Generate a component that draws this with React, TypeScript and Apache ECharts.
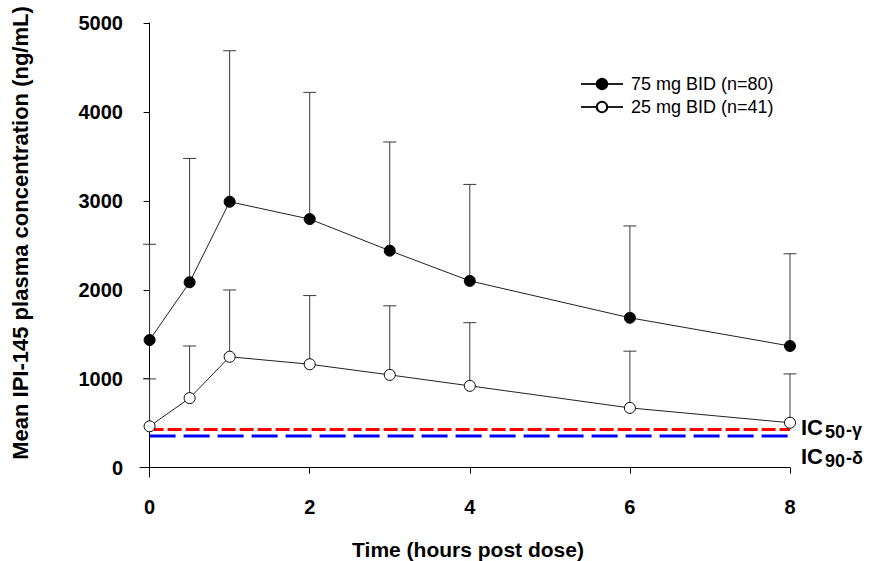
import React, { useEffect, useRef } from "react";
import * as echarts from "echarts";

const times = [0, 0.5, 1, 2, 3, 4, 6, 8];
const mean75 = [1435, 2085, 2990, 2795, 2440, 2100, 1685, 1368];
const upper75 = [2512, 3477, 4688, 4220, 3662, 3185, 2718, 2405];
const mean25 = [465, 782, 1247, 1163, 1043, 920, 672, 505];
const upper25 = [998, 1368, 1998, 1935, 1820, 1630, 1310, 1054];
const ic50Gamma = 430;
const ic90Delta = 355;
const icSpan = [0, 8];
const xTicks = [0, 2, 4, 6, 8];
const yTicks = [0, 1000, 2000, 3000, 4000, 5000];
const name75 = "75 mg BID (n=80)";
const name25 = "25 mg BID (n=41)";

const FONT = "Liberation Sans, Arial, sans-serif";

function errorBarSeries(means: number[], uppers: number[]) {
  return {
    type: "custom",
    z: 1,
    silent: true,
    data: times.map((t, i) => [t, means[i], uppers[i]]),
    renderItem: (params: any, api: any) => {
      const x = api.value(0);
      const p0 = api.coord([x, api.value(1)]);
      const p1 = api.coord([x, api.value(2)]);
      const st = { stroke: "#3a3a3a", lineWidth: 1 };
      return {
        type: "group",
        children: [
          { type: "line", shape: { x1: p0[0], y1: p0[1], x2: p1[0], y2: p1[1] }, style: st },
          { type: "line", shape: { x1: p1[0] - 6.5, y1: p1[1], x2: p1[0] + 6.5, y2: p1[1] }, style: st },
        ],
      };
    },
  };
}

export default function App() {
  const ref = useRef<HTMLDivElement>(null);
  useEffect(() => {
    if (!ref.current) return;
    const chart = echarts.init(ref.current, undefined, { renderer: "svg" });
    chart.setOption({
      animation: false,
      backgroundColor: "#ffffff",
      grid: { left: 140, right: 84, top: 23, bottom: 84 },
      xAxis: {
        type: "value",
        min: -0.12,
        max: 8,
        axisLine: { lineStyle: { color: "#000", width: 1 } },
        axisTick: { show: true, length: 6, inside: false, customValues: xTicks, lineStyle: { color: "#000" } },
        axisLabel: {
          customValues: xTicks,
          formatter: (v: number) => String(v),
          margin: 20,
          fontFamily: FONT,
          fontWeight: "bold",
          fontSize: 20,
          color: "#000",
        },
        splitLine: { show: false },
      },
      yAxis: {
        type: "value",
        min: -105,
        max: 5000,
        axisLine: { show: true, lineStyle: { color: "#000", width: 1 } },
        axisTick: { show: true, length: 6, inside: false, customValues: yTicks, lineStyle: { color: "#000" } },
        axisLabel: {
          customValues: yTicks,
          formatter: (v: number) => String(v),
          margin: 17,
          fontFamily: FONT,
          fontWeight: "bold",
          fontSize: 20,
          color: "#000",
        },
        splitLine: { show: false },
      },
      legend: {
        data: [name75, name25],
        orient: "vertical",
        left: 580,
        top: 75,
        padding: 0,
        itemWidth: 42,
        itemHeight: 13,
        itemGap: 5,
        textStyle: { fontFamily: FONT, fontSize: 18, lineHeight: 13, color: "#000", padding: [0, 0, 0, 3] },
      },
      graphic: [
        {
          type: "text",
          x: 20,
          y: 233,
          rotation: Math.PI / 2,
          style: {
            text: "Mean IPI-145 plasma concentration (ng/mL)",
            fontFamily: FONT,
            fontWeight: "bold",
            fontSize: 22,
            fill: "#000",
            align: "center",
            verticalAlign: "middle",
          },
        },
        {
          type: "text",
          x: 468,
          y: 549,
          style: {
            text: "Time (hours post dose)",
            fontFamily: FONT,
            fontWeight: "bold",
            fontSize: 21,
            fill: "#000",
            align: "center",
            verticalAlign: "middle",
          },
        },
        { type: "text", x: 801, y: 427, style: { text: "IC", fontFamily: FONT, fontWeight: "bold", fontSize: 22, fill: "#000", align: "left", verticalAlign: "middle" } },
        { type: "text", x: 825, y: 432, style: { text: "50", fontFamily: FONT, fontWeight: "bold", fontSize: 18, fill: "#000", align: "left", verticalAlign: "middle" } },
        { type: "text", x: 846, y: 430, style: { text: "-γ", fontFamily: FONT, fontWeight: "bold", fontSize: 18, fill: "#000", align: "left", verticalAlign: "middle" } },
        { type: "text", x: 801, y: 456, style: { text: "IC", fontFamily: FONT, fontWeight: "bold", fontSize: 22, fill: "#000", align: "left", verticalAlign: "middle" } },
        { type: "text", x: 825, y: 461, style: { text: "90", fontFamily: FONT, fontWeight: "bold", fontSize: 18, fill: "#000", align: "left", verticalAlign: "middle" } },
        { type: "text", x: 846, y: 458, style: { text: "-δ", fontFamily: FONT, fontWeight: "bold", fontSize: 18, fill: "#000", align: "left", verticalAlign: "middle" } },
      ],
      series: [
        {
          name: "IC50-gamma",
          type: "line",
          z: 1,
          silent: true,
          symbol: "none",
          data: icSpan.map((x) => [x, ic50Gamma]),
          lineStyle: { color: "#ff0000", width: 3, type: [14, 4] },
        },
        {
          name: "IC90-delta",
          type: "line",
          z: 1,
          silent: true,
          symbol: "none",
          data: icSpan.map((x) => [x, ic90Delta]),
          lineStyle: { color: "#0000ff", width: 3, type: [26, 8] },
        },
        errorBarSeries(mean75, upper75),
        errorBarSeries(mean25, upper25),
        {
          name: name75,
          type: "line",
          z: 3,
          data: times.map((t, i) => [t, mean75[i]]),
          symbol: "circle",
          symbolSize: 11,
          lineStyle: { color: "#222", width: 1 },
          itemStyle: { color: "#000", borderColor: "#000", borderWidth: 1 },
        },
        {
          name: name25,
          type: "line",
          z: 3,
          data: times.map((t, i) => [t, mean25[i]]),
          symbol: "circle",
          symbolSize: 11,
          lineStyle: { color: "#222", width: 1 },
          itemStyle: { color: "#fff", borderColor: "#000", borderWidth: 1 },
        },
      ],
    });
    return () => chart.dispose();
  }, []);
  return <div ref={ref} style={{ position: "fixed", left: 0, top: 0, width: 874, height: 561 }} />;
}
